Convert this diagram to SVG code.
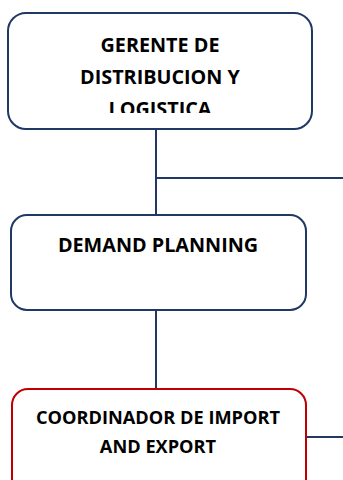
<svg xmlns="http://www.w3.org/2000/svg" width="343" height="480" viewBox="0 0 343 480">
  <style>
    .box { fill: #ffffff; stroke-width: 2; }
    .navy { stroke: #1f3864; }
    .red { stroke: #c00000; }
    .lbl { font-family: "Open Sans", "Liberation Sans", sans-serif; font-weight: bold; font-size: 19.8px; fill: #000000; text-anchor: middle; }
    .small { font-size: 18.2px; }
    .conn { stroke: #1f3864; stroke-width: 2; fill: none; }
  </style>
  <defs>
    <clipPath id="clipTop"><rect x="8" y="13" width="304" height="100"/></clipPath>
  </defs>
  <rect width="343" height="480" fill="#ffffff"/>
  <g id="connectors">
    <line class="conn" x1="156" y1="129" x2="156" y2="215"/>
    <line class="conn" x1="156" y1="178" x2="343" y2="178"/>
    <line class="conn" x1="156" y1="310" x2="156" y2="389"/>
    <line class="conn" x1="306" y1="437" x2="343" y2="437"/>
  </g>
  <g id="gerente">
    <rect class="box navy" x="8" y="13" width="304" height="116" rx="18"/>
    <g clip-path="url(#clipTop)">
      <text class="lbl" x="160" y="52">GERENTE DE</text>
      <text class="lbl" x="160" y="84">DISTRIBUCION Y</text>
      <text class="lbl" x="160" y="116">LOGISTICA</text>
    </g>
  </g>
  <g id="demand">
    <rect class="box navy" x="11" y="215" width="295" height="95" rx="16"/>
    <text class="lbl" x="158" y="252">DEMAND PLANNING</text>
  </g>
  <g id="coordinador">
    <rect class="box red" x="12" y="389" width="294" height="110" rx="16"/>
    <text class="lbl small" x="158" y="424">COORDINADOR DE IMPORT</text>
    <text class="lbl small" x="158" y="453">AND EXPORT</text>
  </g>
</svg>
